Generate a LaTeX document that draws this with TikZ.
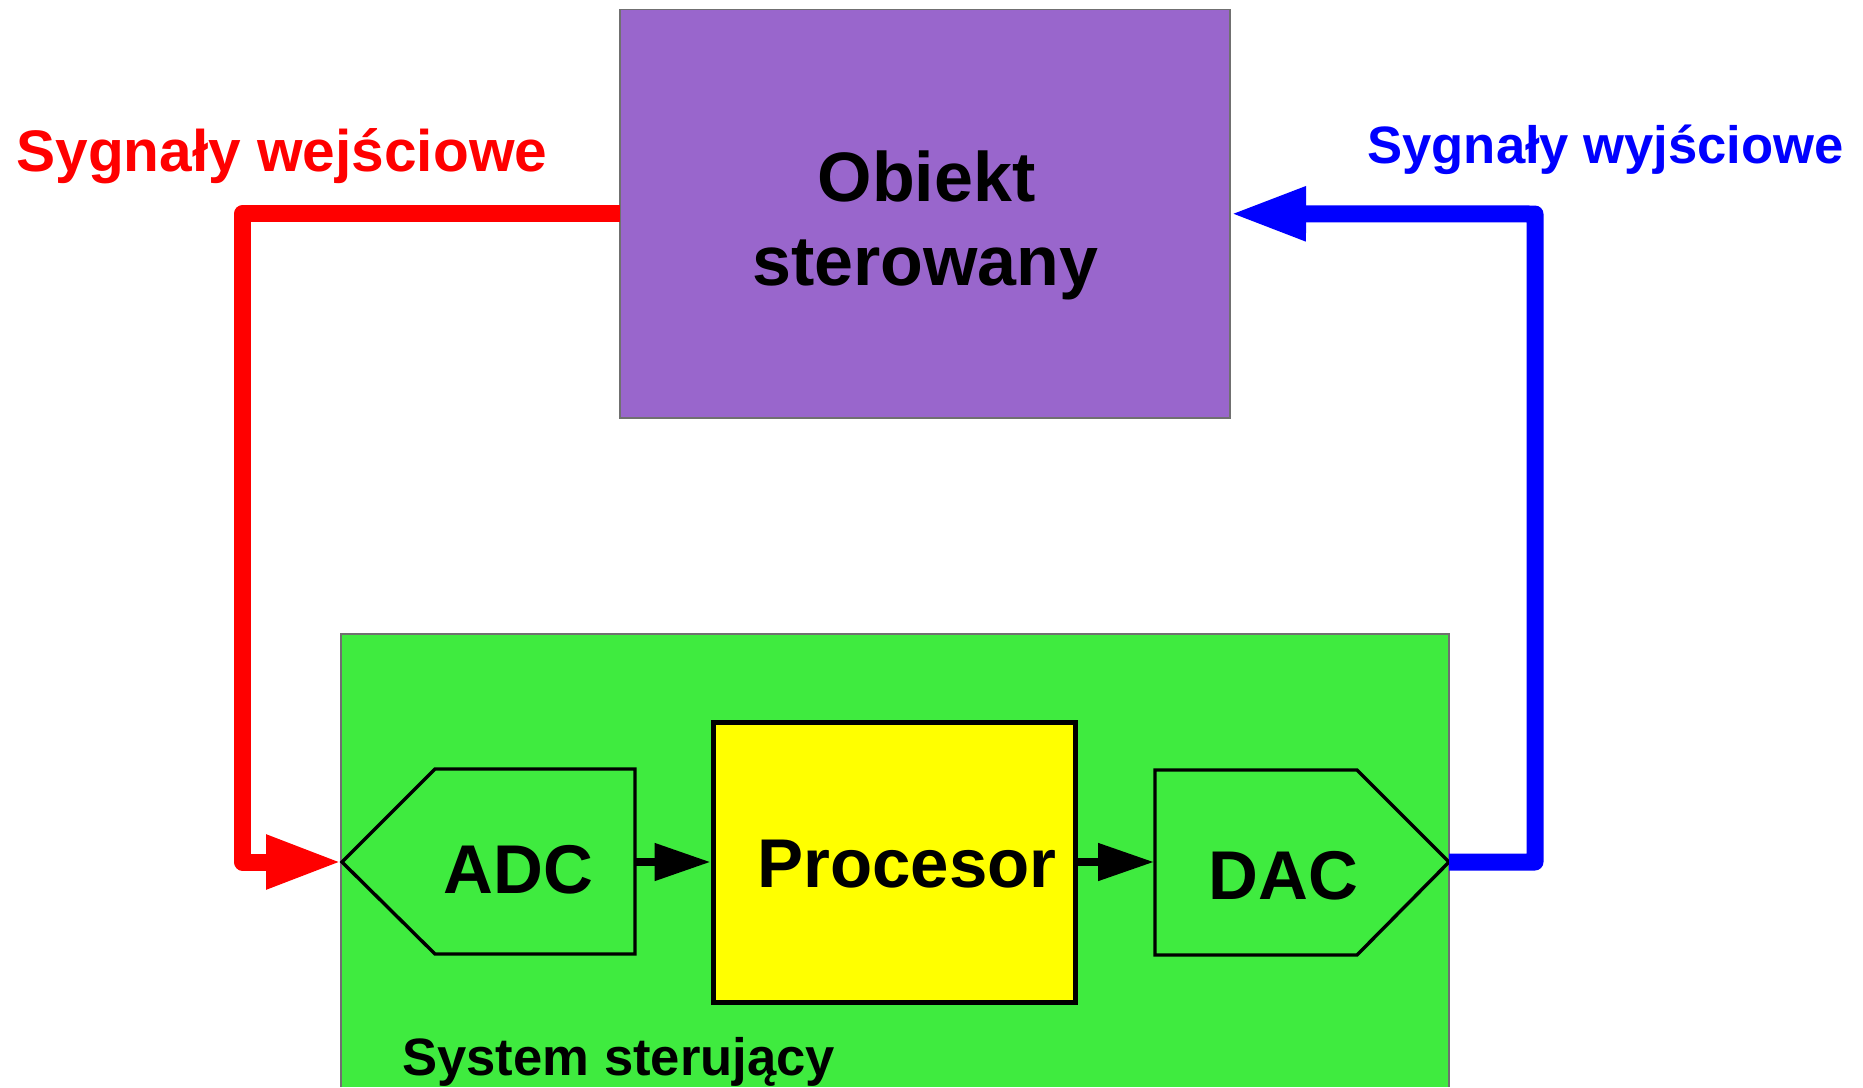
\documentclass[tikz,border=0pt]{standalone}
\usepackage{fontspec}
\setmainfont{Liberation Sans}
\usetikzlibrary{arrows.meta}
\definecolor{objpurple}{HTML}{9966CC}
\definecolor{sysgreen}{HTML}{3FEB3F}
\definecolor{edgegray}{HTML}{707070}
\definecolor{procyellow}{HTML}{FFFF00}
\begin{document}
\begin{tikzpicture}[x=0.5pt,y=-0.5pt,
  txt/.style={inner sep=0pt, font=\bfseries\fontsize{34.5}{40}\selectfont},
  sigline/.style={line width=8.5pt, line join=round},
  bigtip/.style={-{Triangle[length=38pt,width=25pt]}},
  smallarrow/.style={line width=4pt, -{Triangle[length=28pt,width=18pt]}},
  conv/.style={draw=black, fill=sysgreen, line width=1.7pt, line join=miter},
]
\useasboundingbox (0,0) rectangle (1863,1087);
% controlled object
\node[fill=objpurple, draw=edgegray, line width=0.8pt, minimum width=305pt,
      minimum height=204.25pt, inner sep=0pt, outer sep=0pt] (obj) at (925,213.75) {};
\node[txt, anchor=base, font=\bfseries\fontsize{35}{40}\selectfont] (objt1) at (926.5,201) {Obiekt};
\node[txt, anchor=base, font=\bfseries\fontsize{35}{40}\selectfont] (objt2) at (925.5,285) {sterowany};
% control system
\node[fill=sysgreen, minimum width=554pt, minimum height=226.5pt, inner sep=0pt, outer sep=0pt] (sys) at (895,860.5) {};
\draw[edgegray, line width=0.8pt] (sys.south west) -- (sys.north west) -- (sys.north east) -- (sys.south east);
\node[txt, anchor=base west, font=\bfseries\fontsize{26.3}{30}\selectfont] (syst) at (402,1075) {System sterujący};
% ADC
\draw[conv] (342,862) -- (435,769) -- (635,769) -- (635,954) -- (435,954) -- cycle;
\coordinate (adcin) at (342,862);
\coordinate (adcout) at (636,862);
\node[txt, anchor=base west] (adct) at (443,893) {ADC};
% processor
\node[fill=procyellow, draw=black, line width=2.5pt, minimum width=181pt, minimum height=140pt, inner sep=0pt] (proc) at (894,862) {};
\node[txt, anchor=base west] (proct) at (757,887) {Procesor};
% DAC
\draw[conv] (1155,770) -- (1357,770) -- (1449,862) -- (1357,955) -- (1155,955) -- cycle;
\coordinate (dacin) at (1154,862);
\coordinate (dacout) at (1449,862);
\node[txt, anchor=base west] (dact) at (1208,899) {DAC};
% internal arrows
\draw[smallarrow] (adcout) -- (proc.west);
\draw[smallarrow] (proc.east) -- (dacin);
% signals
\draw[red, sigline, bigtip] (obj.west) -| (242.5,862) -- (adcin);
\draw[blue, sigline, bigtip] (dacout) -| (1535,214) -- (obj.east);
% labels
\node[txt, anchor=base west, red, font=\bfseries\fontsize{29.3}{34}\selectfont] (inlab) at (16,171) {Sygnały wejściowe};
\node[txt, anchor=base west, blue, font=\bfseries\fontsize{26.3}{30}\selectfont] (outlab) at (1367,163) {Sygnały wyjściowe};
\end{tikzpicture}
\end{document}
